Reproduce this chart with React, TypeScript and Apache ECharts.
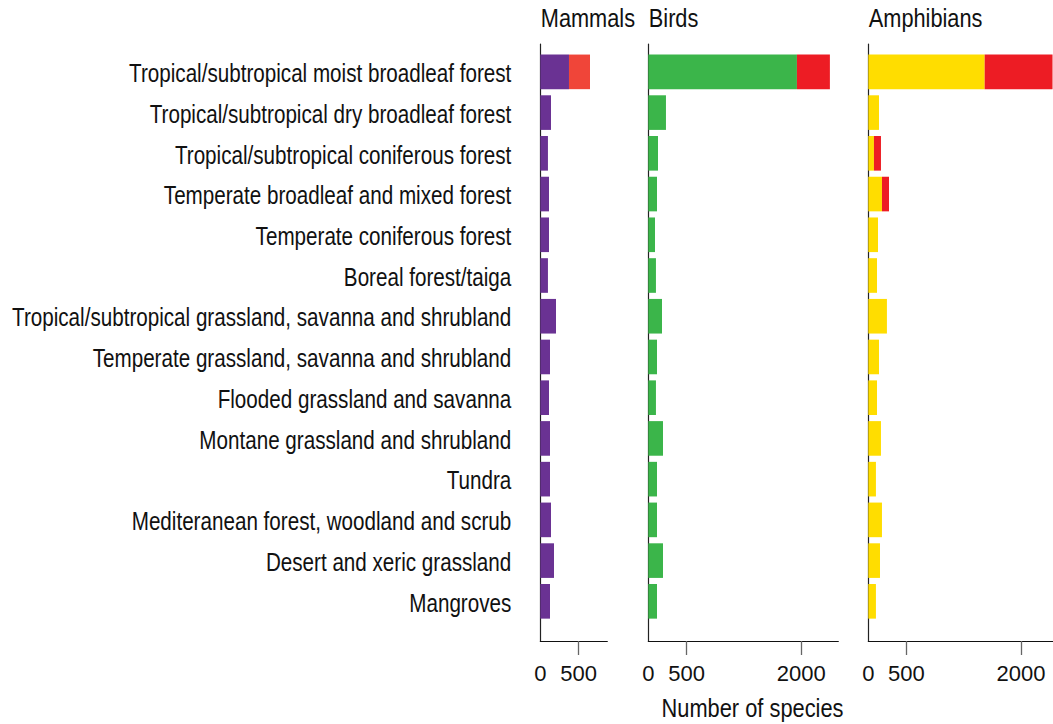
import React, { useEffect, useRef } from "react";
import * as echarts from "echarts";

const categories = [
  "Tropical/subtropical moist broadleaf forest",
  "Tropical/subtropical dry broadleaf forest",
  "Tropical/subtropical coniferous forest",
  "Temperate broadleaf and mixed forest",
  "Temperate coniferous forest",
  "Boreal forest/taiga",
  "Tropical/subtropical grassland, savanna and shrubland",
  "Temperate grassland, savanna and shrubland",
  "Flooded grassland and savanna",
  "Montane grassland and shrubland",
  "Tundra",
  "Mediteranean forest, woodland and scrub",
  "Desert and xeric grassland",
  "Mangroves",
];

const panelTitles = ["Mammals", "Birds", "Amphibians"];

const mammalsBase = [375, 140, 100, 114, 114, 100, 205, 127, 114, 127, 127, 140, 179, 127];
const mammalsRed = [275, 0, 0, 0, 0, 0, 0, 0, 0, 0, 0, 0, 0, 0];
const birdsBase = [1944, 231, 127, 114, 88, 100, 179, 114, 100, 192, 114, 114, 192, 114];
const birdsRed = [431, 0, 0, 0, 0, 0, 0, 0, 0, 0, 0, 0, 0, 0];
const amphBase = [1525, 140, 74, 179, 127, 114, 244, 140, 114, 166, 100, 179, 153, 100];
const amphRed = [889, 0, 92, 92, 0, 0, 0, 0, 0, 0, 0, 0, 0, 0];

const axisMax = [876, 2485, 2420];
const tickValues = [[500], [500, 2000], [500, 2000]];
const tickLabelValues = [[0, 500], [0, 500, 2000], [0, 500, 2000]];
const axisTitle = "Number of species";

const FONT = "'Liberation Sans', Arial, Helvetica, sans-serif";
const NARROW_LABEL = 0.826;
const NARROW_TITLE = 0.87;

export default function App() {
  const ref = useRef<HTMLDivElement>(null);
  useEffect(() => {
    if (!ref.current) return;
    const chart = echarts.init(ref.current, null, { renderer: "svg" });
    const panels = [
      { left: 540.3, width: 67, base: mammalsBase, red: mammalsRed, c1: "#6A3293", c2: "#F04539" },
      { left: 648.3, width: 190, base: birdsBase, red: birdsRed, c1: "#3BB54A", c2: "#ED1C24" },
      { left: 868.3, width: 184.7, base: amphBase, red: amphRed, c1: "#FFDD00", c2: "#ED1C24" },
    ];
    const grids: any[] = [];
    const xAxes: any[] = [];
    const yAxes: any[] = [];
    const series: any[] = [];
    panels.forEach((p, i) => {
      grids.push({ left: p.left, width: p.width, top: 44, height: 597, outerBoundsMode: "none", containLabel: false });
      xAxes.push({
        type: "value",
        gridIndex: i,
        min: 0,
        max: axisMax[i],
        axisLine: { show: true, onZero: false, lineStyle: { color: "#111", width: 1.2 } },
        axisTick: {
          show: true,
          customValues: tickValues[i],
          length: 14,
          lineStyle: { color: "#666", width: 1.3 },
        },
        axisLabel: {
          show: true,
          customValues: tickLabelValues[i],
          margin: 21.5,
          fontSize: 22,
          fontFamily: FONT,
          color: "#111",
          formatter: (v: number) => String(v),
        },
        splitLine: { show: false },
      });
      yAxes.push({
        type: "value",
        gridIndex: i,
        min: 0,
        max: 1,
        axisLine: { show: true, onZero: false, lineStyle: { color: "#222", width: 1.2 } },
        axisTick: { show: false },
        axisLabel: { show: false },
        splitLine: { show: false },
      });
    });
    panels.forEach((p, i) => {
      const gi = 3 + i;
      grids.push({ left: p.left, width: p.width, top: 51.5, height: 570.2, outerBoundsMode: "none", containLabel: false });
      xAxes.push({
        type: "value",
        gridIndex: gi,
        min: 0,
        max: axisMax[i],
        show: false,
        splitLine: { show: false },
      });
      yAxes.push({
        type: "category",
        gridIndex: gi,
        data: categories,
        inverse: true,
        axisLine: { show: false },
        axisTick: { show: false },
        axisLabel: { show: false },
        splitLine: { show: false },
      });
      series.push({
        type: "bar",
        name: panelTitles[i],
        xAxisIndex: gi,
        yAxisIndex: gi,
        stack: "s" + i,
        data: p.base,
        barCategoryGap: "15%",
        itemStyle: { color: p.c1 },
      });
      series.push({
        type: "bar",
        name: panelTitles[i] + " red",
        xAxisIndex: gi,
        yAxisIndex: gi,
        stack: "s" + i,
        data: p.red,
        barCategoryGap: "15%",
        itemStyle: { color: p.c2 },
      });
    });
    // category labels drawn through the category axis scale, in a narrow face
    series.push({
      type: "custom",
      name: "labels",
      xAxisIndex: 3,
      yAxisIndex: 3,
      clip: false,
      silent: true,
      encode: { x: 0, y: 1 },
      data: categories.map((c, i) => [0, i]),
      renderItem: (params: any, api: any) => {
        const idx = api.value(1);
        const pt = api.coord([0, idx]);
        return {
          type: "text",
          x: pt[0] - 29,
          y: pt[1] + 1.5,
          scaleX: NARROW_LABEL,
          style: {
            text: categories[params.dataIndex],
            fontSize: 25,
            fontFamily: FONT,
            fill: "#111",
            align: "right",
            verticalAlign: "middle",
          },
        };
      },
    });
    const graphic: any[] = panelTitles.map((t, i) => ({
      type: "text",
      x: panels[i].left + 0.5,
      y: 18,
      scaleX: NARROW_TITLE,
      style: {
        text: t,
        fontSize: 25,
        fontFamily: FONT,
        fill: "#111",
        align: "left",
        verticalAlign: "middle",
      },
    }));
    graphic.push({
      type: "text",
      x: 752.5,
      y: 708,
      scaleX: 0.84,
      style: {
        text: axisTitle,
        fontSize: 26,
        fontFamily: FONT,
        fill: "#111",
        align: "center",
        verticalAlign: "middle",
      },
    });
    chart.setOption({
      animation: false,
      backgroundColor: "#fff",
      grid: grids,
      xAxis: xAxes,
      yAxis: yAxes,
      series,
      graphic,
    });
    return () => chart.dispose();
  }, []);
  return (
    <div
      ref={ref}
      style={{ position: "fixed", left: 0, top: 0, width: 1053, height: 724 }}
    />
  );
}
